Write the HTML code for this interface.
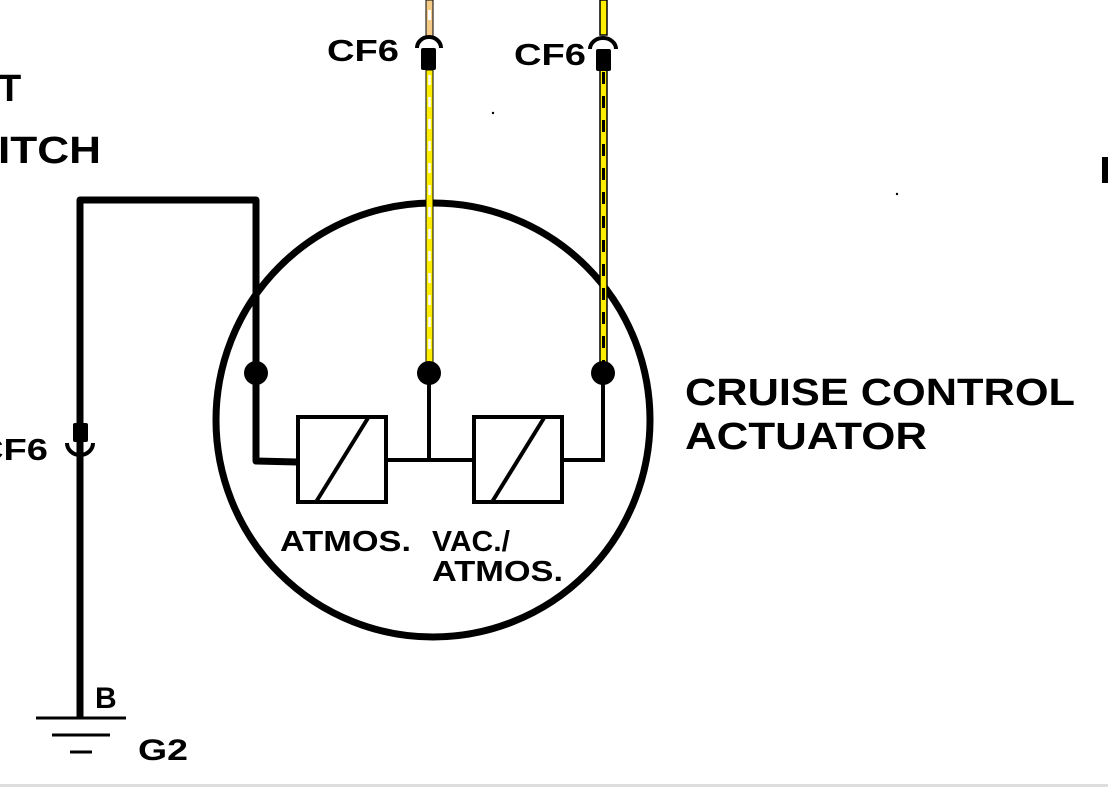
<!DOCTYPE html>
<html><head><meta charset="utf-8"><style>
html,body{margin:0;padding:0;background:#fff;}
svg{display:block;}
text{font-family:"Liberation Sans",sans-serif;font-weight:bold;fill:#000;}
</style></head><body>
<svg width="1108" height="787" viewBox="0 0 1108 787" xmlns="http://www.w3.org/2000/svg">
<rect width="1108" height="787" fill="#fff"/>
<rect x="0" y="784" width="1108" height="3" fill="#ddd"/>
<polyline points="80,718 80,200 256,200 256,461 297,462" fill="none" stroke="#000" stroke-width="7" stroke-linejoin="round"/>
<ellipse cx="433" cy="420" rx="217" ry="217" fill="none" stroke="#000" stroke-width="7"/>
<rect x="426" y="0" width="7" height="38" fill="#f4cc88" stroke="#000" stroke-width="1"/>
<rect x="428" y="10" width="3" height="10" fill="#fff"/>
<rect x="426" y="70" width="7" height="300" fill="#ffee00" stroke="#000" stroke-width="1"/>
<line x1="429.5" y1="75" x2="429.5" y2="370" stroke="#fff" stroke-width="2.5" stroke-dasharray="10 12"/>
<rect x="600" y="0" width="7" height="35" fill="#ffee00" stroke="#000" stroke-width="1.5"/>
<rect x="600" y="70" width="7" height="300" fill="#ffee00" stroke="#000" stroke-width="1.5"/>
<line x1="603.5" y1="72" x2="603.5" y2="370" stroke="#000" stroke-width="3" stroke-dasharray="12 12"/>
<path d="M417,48 A12,11 0 0 1 441,48" fill="none" stroke="#000" stroke-width="4"/>
<rect x="421" y="48" width="15" height="22" fill="#000" rx="2"/>
<path d="M590,49 A13,11 0 0 1 616,49" fill="none" stroke="#000" stroke-width="4"/>
<rect x="596" y="49" width="15" height="22" fill="#000" rx="2"/>
<text x="327" y="61" font-size="31" textLength="72" lengthAdjust="spacingAndGlyphs">CF6</text>
<text x="514" y="65" font-size="31" textLength="72" lengthAdjust="spacingAndGlyphs">CF6</text>
<rect x="73" y="423" width="15" height="19" fill="#000" rx="2"/>
<path d="M67,443 A13,12 0 0 0 93,443" fill="none" stroke="#000" stroke-width="4"/>
<text x="-24" y="460" font-size="31" textLength="72" lengthAdjust="spacingAndGlyphs">CF6</text>
<circle cx="256" cy="373" r="12" fill="#000"/>
<circle cx="429" cy="373" r="12" fill="#000"/>
<circle cx="603" cy="373" r="12" fill="#000"/>
<line x1="429" y1="373" x2="429" y2="461" stroke="#000" stroke-width="4"/>
<line x1="387" y1="460" x2="473" y2="460" stroke="#000" stroke-width="4"/>
<polyline points="563,460 603,460 603,373" fill="none" stroke="#000" stroke-width="4"/>
<rect x="298" y="417" width="88" height="85" fill="#fff" stroke="#000" stroke-width="4"/>
<line x1="316" y1="502" x2="368" y2="418" stroke="#000" stroke-width="4"/>
<rect x="474" y="417" width="88" height="85" fill="#fff" stroke="#000" stroke-width="4"/>
<line x1="492" y1="502" x2="544" y2="418" stroke="#000" stroke-width="4"/>
<text x="280" y="551" font-size="29" textLength="131" lengthAdjust="spacingAndGlyphs">ATMOS.</text>
<text x="432" y="551" font-size="29" textLength="78" lengthAdjust="spacingAndGlyphs">VAC./</text>
<text x="432" y="581" font-size="29" textLength="131" lengthAdjust="spacingAndGlyphs">ATMOS.</text>
<text x="685" y="405" font-size="38" textLength="390" lengthAdjust="spacingAndGlyphs">CRUISE CONTROL</text>
<text x="685" y="449" font-size="38" textLength="242" lengthAdjust="spacingAndGlyphs">ACTUATOR</text>
<text x="-2" y="101" font-size="38">T</text>
<text x="-2" y="163" font-size="38" textLength="103" lengthAdjust="spacingAndGlyphs">ITCH</text>
<rect x="1102" y="157" width="6" height="26" fill="#000"/>
<line x1="36" y1="718" x2="126" y2="718" stroke="#000" stroke-width="3"/>
<line x1="52" y1="735" x2="110" y2="735" stroke="#000" stroke-width="3"/>
<line x1="70" y1="752" x2="92" y2="752" stroke="#000" stroke-width="3"/>
<text x="95" y="708" font-size="30">B</text>
<text x="138" y="760" font-size="30" textLength="50" lengthAdjust="spacingAndGlyphs">G2</text>
<circle cx="493" cy="113" r="1.2" fill="#000"/>
<circle cx="897" cy="194" r="1.2" fill="#000"/>
</svg>
</body></html>
